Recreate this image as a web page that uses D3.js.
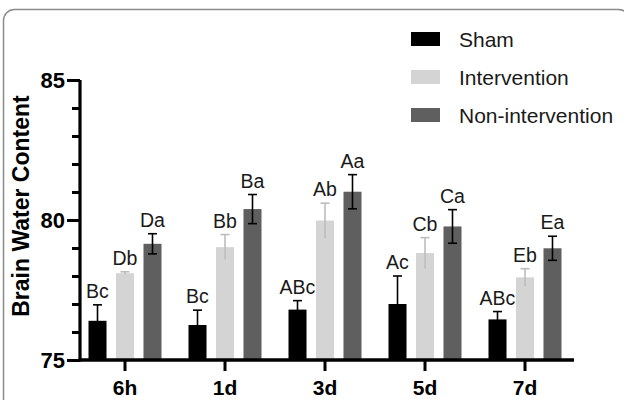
<!DOCTYPE html>
<html>
<head>
<meta charset="utf-8">
<script src="https://cdn.jsdelivr.net/npm/d3@7"></script>
<style>
html,body{margin:0;padding:0;background:#fff;}
svg{display:block;font-family:"Liberation Sans",Arial,sans-serif;}
</style>
</head>
<body>
<svg id="chart" width="624" height="400"></svg>
<script>
const categories = ["6h", "1d", "3d", "5d", "7d"];
const seriesNames = ["Sham", "Intervention", "Non-intervention"];
const shamValues = [76.4, 76.25, 76.8, 77.0, 76.45];
const shamErrors = [0.57, 0.53, 0.32, 1.0, 0.28];
const interventionValues = [78.1, 79.03, 79.98, 78.82, 77.95];
const interventionErrors = [0.05, 0.45, 0.62, 0.55, 0.31];
const nonInterventionValues = [79.15, 80.39, 81.01, 79.77, 78.99];
const nonInterventionErrors = [0.36, 0.52, 0.61, 0.6, 0.43];
const shamLabels = ["Bc", "Bc", "ABc", "Ac", "ABc"];
const interventionLabels = ["Db", "Bb", "Ab", "Cb", "Eb"];
const nonInterventionLabels = ["Da", "Ba", "Aa", "Ca", "Ea"];
const yTicks = [75, 80, 85];
const yMinorTicks = [76, 77, 78, 79, 81, 82, 83, 84];

const colors = ["#000000", "#d4d4d4", "#5f5f5f"];
const whiskerColors = ["#000000", "#bdbdbd", "#000000"];

const series = [
  {name: seriesNames[0], values: shamValues, errors: shamErrors, labels: shamLabels},
  {name: seriesNames[1], values: interventionValues, errors: interventionErrors, labels: interventionLabels},
  {name: seriesNames[2], values: nonInterventionValues, errors: nonInterventionErrors, labels: nonInterventionLabels}
];

const svg = d3.select("#chart");

// frame
svg.append("rect")
  .attr("x", 3.5).attr("y", 9.5).attr("width", 626).attr("height", 420)
  .attr("rx", 11).attr("fill", "none").attr("stroke", "#8a8a8a").attr("stroke-width", 1.5);

const x0 = d3.scaleBand().domain(categories).range([75, 575]).padding(0);
const x1 = d3.scaleBand().domain(seriesNames).range([-36.5, 36.5]).paddingInner(0.345).paddingOuter(0);
const y = d3.scaleLinear().domain([75, 85]).range([360, 80]);

// bars
series.forEach((s, si) => {
  const g = svg.append("g");
  categories.forEach((c, i) => {
    const cx = x0(c) + x0.bandwidth() / 2 + x1(s.name);
    g.append("rect")
      .attr("x", cx).attr("y", y(s.values[i]))
      .attr("width", x1.bandwidth()).attr("height", y(75) - y(s.values[i]))
      .attr("fill", colors[si]);
  });
});

// error bars + labels
series.forEach((s, si) => {
  const g = svg.append("g");
  categories.forEach((c, i) => {
    const mid = x0(c) + x0.bandwidth() / 2 + x1(s.name) + x1.bandwidth() / 2;
    const top = y(s.values[i] + s.errors[i]);
    const bot = y(s.values[i] - s.errors[i]);
    g.append("line").attr("x1", mid).attr("x2", mid).attr("y1", top).attr("y2", bot)
      .attr("stroke", whiskerColors[si]).attr("stroke-width", 1.6);
    g.append("line").attr("x1", mid - 4.5).attr("x2", mid + 4.5).attr("y1", top).attr("y2", top)
      .attr("stroke", whiskerColors[si]).attr("stroke-width", 1.6);
    if (si === 2) {
      g.append("line").attr("x1", mid - 4.5).attr("x2", mid + 4.5).attr("y1", bot).attr("y2", bot)
        .attr("stroke", whiskerColors[si]).attr("stroke-width", 1.6);
    }
    g.append("text").attr("x", mid).attr("y", top - 7)
      .attr("text-anchor", "middle").attr("font-size", 19.5).attr("fill", "#1a1a1a")
      .text(s.labels[i]);
  });
});

// y axis
const yAxis = d3.axisLeft(y).tickValues(yTicks).tickSize(13).tickPadding(2).tickFormat(d3.format("d"));
const yg = svg.append("g").attr("transform", "translate(80,0)").call(yAxis);
yg.select(".domain").attr("stroke", "#000").attr("stroke-width", 3.2).attr("d", "M0," + y(85) + "V" + (y(75) + 1.6));
yg.selectAll(".tick line").attr("stroke", "#000").attr("stroke-width", 3);
yg.selectAll(".tick text").attr("font-size", 22).attr("font-weight", "bold").attr("fill", "#000")
  .attr("font-family", "'Liberation Sans',Arial,sans-serif");
const yMinor = d3.axisLeft(y).tickValues(yMinorTicks).tickSize(8).tickFormat("");
const ymg = svg.append("g").attr("transform", "translate(80,0)").call(yMinor);
ymg.select(".domain").remove();
ymg.selectAll(".tick line").attr("stroke", "#000").attr("stroke-width", 3);

// x axis
const xAxis = d3.axisBottom(x0).tickSize(11).tickPadding(9);
const xg = svg.append("g").attr("transform", "translate(0," + y(75) + ")").call(xAxis);
xg.select(".domain").attr("stroke", "#000").attr("stroke-width", 3.5).attr("d", "M78.5,0H574");
xg.selectAll(".tick line").attr("stroke", "#000").attr("stroke-width", 3);
xg.selectAll(".tick text").attr("font-size", 21).attr("font-weight", "bold").attr("fill", "#000")
  .attr("font-family", "'Liberation Sans',Arial,sans-serif");

// y title
svg.append("text")
  .attr("transform", "translate(29,206) rotate(-90)")
  .attr("text-anchor", "middle").attr("font-size", 23).attr("font-weight", "bold").attr("fill", "#000")
  .text("Brain Water Content");

// legend
const legendRows = [39, 77, 115];
seriesNames.forEach((n, i) => {
  svg.append("rect").attr("x", 411).attr("y", legendRows[i] - 7).attr("width", 29).attr("height", 14)
    .attr("fill", colors[i]);
  svg.append("text").attr("x", 459).attr("y", legendRows[i] + 7.5)
    .attr("font-size", 21).attr("fill", "#1a1a1a").text(n);
});
</script>
</body>
</html>
